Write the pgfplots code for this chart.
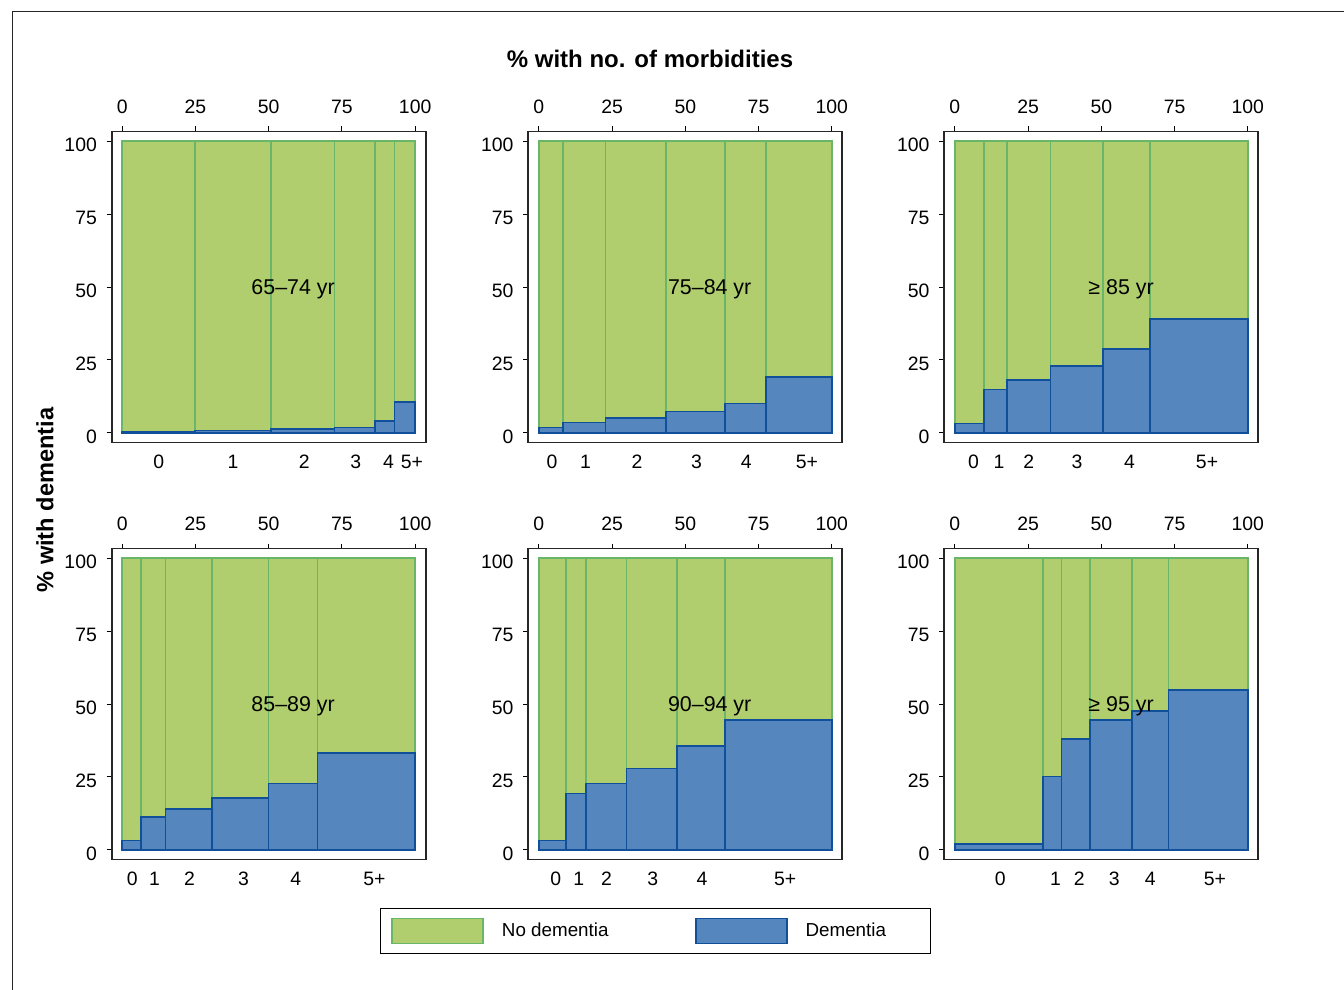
\documentclass[border=0pt]{standalone}
\usepackage{fontspec}
\setmainfont{Liberation Sans}
\usepackage{pgfplots}
\pgfplotsset{compat=1.18}
\definecolor{nodem}{RGB}{176,206,110}
\definecolor{nodemline}{RGB}{105,182,105}
\definecolor{dem}{RGB}{86,134,190}
\definecolor{demline}{RGB}{16,80,155}
\tikzset{agelab/.style={anchor=west, font=\fontsize{10.7}{12}\selectfont}}
\pgfplotsset{
 panel/.style={
   scale only axis, width=157pt, height=155.5pt,
   xmin=-3.6, xmax=103.6, ymin=-3.3, ymax=103.3,
   anchor=south west,
   axis line style={line width=0.9pt, black!85},
   tick style={line width=0.5pt, black},
   tick align=outside,
   major tick length=2.5pt,
   ytick={0,25,50,75,100}, ytick pos=left,
   xtick={0,25,50,75,100}, xtick pos=top, xticklabel pos=top,
   /pgf/number format/assume math mode=true,
   ticklabel style={font=\fontsize{9.7}{11}\selectfont},
   yticklabel style={xshift=-1.4pt, yshift=-2pt},
   xticklabel style={yshift=3pt},
   clip=false,
 },
 catax/.style={
   scale only axis, width=157pt, height=155.5pt,
   xmin=-3.6, xmax=103.6, ymin=-3.3, ymax=103.3,
   anchor=south west,
   axis x line*=bottom, axis y line=none,
   x axis line style={draw=none},
   major tick length=0pt,
   xticklabels={0,1,2,3,4,5+},
   xticklabel style={font=\fontsize{9.7}{11}\selectfont, yshift=-2.6pt},
 },
 nodembar/.style={ybar interval, fill=nodem, draw=nodemline, line width=0.8pt,
   /pgfplots/legend image code/.code={\draw[##1] (0pt,-6.25pt) rectangle (45.5pt,6.25pt);}},
 dembar/.style={ybar interval, fill=dem, draw=demline, line width=0.8pt,
   /pgfplots/legend image code/.code={\draw[##1] (0pt,-6.25pt) rectangle (45.5pt,6.25pt);}},
}
\begin{document}
\begin{tikzpicture}
\useasboundingbox (0pt,0pt) rectangle (672pt,-495pt);
\draw[line width=0.5pt, black!85] (6pt,-495pt) -- (6pt,-6pt) -- (672pt,-6pt);
\node[font=\bfseries\fontsize{12}{14}\selectfont] at (325pt,-29.5pt) {\% with no. of morbidities};
\node[font=\bfseries\fontsize{11.8}{14}\selectfont, rotate=90] at (22.5pt,-250pt) {\% with dementia};

% ---- Panel 1: 65-74 yr
\begin{axis}[panel, at={(55.85pt,-221.25pt)}]
\addplot[nodembar] coordinates {(0,100) (24.8,100) (50.7,100) (72.4,100) (86.3,100) (93.0,100) (100,100)};
\addplot[dembar] coordinates {(0,0.5) (24.8,0.8) (50.7,1.4) (72.4,1.8) (86.3,4.1) (93.0,10.5) (100,10.5)};
\node[agelab] at (axis cs:41.7,49.3) {65–74 yr};
\end{axis}
\begin{axis}[catax, at={(55.85pt,-221.25pt)}, xtick={12.5,37.8,62.1,79.7,90.9,98.9}]
\end{axis}

% ---- Panel 2: 75-84 yr
\begin{axis}[panel, at={(264.15pt,-221.25pt)}]
\addplot[nodembar] coordinates {(0,100) (8.3,100) (22.7,100) (43.5,100) (63.6,100) (77.6,100) (100,100)};
\addplot[dembar] coordinates {(0,1.8) (8.3,3.5) (22.7,5.1) (43.5,7.3) (63.6,10.1) (77.6,19.2) (100,19.2)};
\node[agelab] at (axis cs:41.7,49.3) {75–84 yr};
\end{axis}
\begin{axis}[catax, at={(264.15pt,-221.25pt)}, xtick={4.5,15.9,33.5,53.8,70.8,91.5}]
\end{axis}

% ---- Panel 3: >= 85 yr
\begin{axis}[panel, at={(472.15pt,-221.25pt)}]
\addplot[nodembar] coordinates {(0,100) (10.0,100) (17.8,100) (32.6,100) (50.5,100) (66.6,100) (100,100)};
\addplot[dembar] coordinates {(0,3.2) (10.0,14.9) (17.8,18.1) (32.6,22.9) (50.5,28.8) (66.6,39.0) (100,39.0)};
\node[agelab] at (axis cs:43.2,49.3) {≥ 85 yr};
\end{axis}
\begin{axis}[catax, at={(472.15pt,-221.25pt)}, xtick={6.4,15.1,25.2,41.7,59.6,86.1}]
\end{axis}

% ---- Panel 4: 85-89 yr
\begin{axis}[panel, at={(55.85pt,-429.75pt)}]
\addplot[nodembar] coordinates {(0,100) (6.5,100) (14.7,100) (30.7,100) (49.9,100) (66.6,100) (100,100)};
\addplot[dembar] coordinates {(0,3.2) (6.5,11.2) (14.7,14.0) (30.7,17.7) (49.9,22.7) (66.6,33.3) (100,33.3)};
\node[agelab] at (axis cs:41.7,49.3) {85–89 yr};
\end{axis}
\begin{axis}[catax, at={(55.85pt,-429.75pt)}, xtick={3.4,11.0,23.0,41.4,59.2,86.1}]
\end{axis}

% ---- Panel 5: 90-94 yr
\begin{axis}[panel, at={(264.15pt,-429.75pt)},
  legend columns=2,
  legend style={at={(0.405,-0.23)}, anchor=center, draw=black, line width=0.6pt,
    inner xsep=5.5pt, inner ysep=4.5pt,
    font=\fontsize{9.4}{11}\selectfont,
    /tikz/every even column/.append style={column sep=39.5pt},
    /tikz/every odd column/.append style={column sep=7pt}}]
\addplot[nodembar] coordinates {(0,100) (9.2,100) (16.0,100) (29.9,100) (47.2,100) (63.6,100) (100,100)};
\addlegendentry{\makebox[55pt][l]{No dementia}}
\addplot[dembar] coordinates {(0,3.2) (9.2,19.3) (16.0,22.7) (29.9,27.9) (47.2,35.6) (63.6,44.5) (100,44.5)};
\addlegendentry{\makebox[55pt][l]{Dementia}}
\node[agelab] at (axis cs:41.7,49.3) {90–94 yr};
\end{axis}
\begin{axis}[catax, at={(264.15pt,-429.75pt)}, xtick={5.8,13.6,23.1,38.9,55.7,84.1}]
\end{axis}

% ---- Panel 6: >= 95 yr
\begin{axis}[panel, at={(472.15pt,-429.75pt)}]
\addplot[nodembar] coordinates {(0,100) (30.1,100) (36.4,100) (46.1,100) (60.4,100) (72.9,100) (100,100)};
\addplot[dembar] coordinates {(0,2.1) (30.1,25.1) (36.4,38.1) (46.1,44.5) (60.4,47.7) (72.9,54.8) (100,54.8)};
\node[agelab] at (axis cs:43.2,49.3) {≥ 95 yr};
\end{axis}
\begin{axis}[catax, at={(472.15pt,-429.75pt)}, xtick={15.5,34.4,42.5,54.4,66.7,88.8}]
\end{axis}
\end{tikzpicture}
\end{document}
